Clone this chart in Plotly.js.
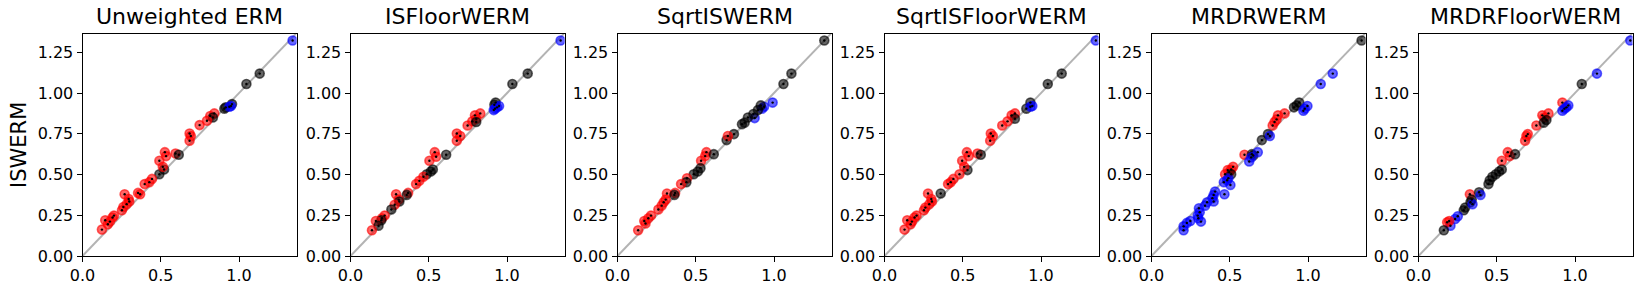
<!DOCTYPE html>
<html>
<head>
<meta charset="utf-8">
<script src="https://cdn.plot.ly/plotly-3.0.1.min.js"></script>
<style>html,body{margin:0;padding:0;background:#fff;}#chart{width:1642px;height:294px;}</style>
</head>
<body>
<div id="chart"></div>
<script>
// Panel titles
const titles = ["Unweighted ERM", "ISFloorWERM", "SqrtISWERM", "SqrtISFloorWERM", "MRDRWERM", "MRDRFloorWERM"];
const yLabel = "ISWERM";
const xTickVals = [0, 0.5, 1.0];
const yTickVals = [0, 0.25, 0.5, 0.75, 1.0, 1.25];

// Panel 1: Unweighted ERM
const x1 = [1.342,1.132,1.047,0.906,0.915,0.955,0.949,0.938,0.842,0.816,0.833,0.795,0.748,0.684,0.692,0.684,0.526,0.534,0.491,0.594,0.615,0.521,0.491,0.513,0.444,0.427,0.397,0.355,0.368,0.269,0.295,0.299,0.282,0.261,0.252,0.201,0.192,0.175,0.145,0.162,0.124];
const y1 = [1.322,1.119,1.055,0.904,0.912,0.932,0.920,0.916,0.875,0.859,0.850,0.830,0.803,0.752,0.736,0.707,0.637,0.613,0.584,0.629,0.621,0.531,0.502,0.547,0.473,0.453,0.441,0.387,0.379,0.379,0.350,0.334,0.318,0.301,0.281,0.248,0.236,0.211,0.219,0.195,0.162];
const c1 = ["b","k","k","k","k","k","b","b","r","r","k","r","r","r","r","r","r","r","r","r","k","k","k","r","r","r","r","r","r","r","r","r","r","r","r","r","r","r","r","r","r"];

// Panel 2: ISFloorWERM
const x2 = [1.342,1.132,1.034,0.927,0.919,0.915,0.936,0.949,0.923,0.829,0.795,0.803,0.778,0.748,0.803,0.679,0.701,0.679,0.538,0.547,0.504,0.611,0.526,0.513,0.487,0.466,0.440,0.419,0.368,0.359,0.291,0.308,0.312,0.282,0.261,0.218,0.201,0.197,0.162,0.179,0.137];
const y2 = [1.322,1.119,1.055,0.941,0.928,0.895,0.912,0.920,0.904,0.875,0.863,0.842,0.826,0.801,0.822,0.752,0.736,0.707,0.637,0.609,0.584,0.621,0.531,0.518,0.502,0.486,0.461,0.441,0.387,0.375,0.379,0.346,0.334,0.314,0.285,0.248,0.232,0.219,0.215,0.186,0.158];
const c2 = ["b","k","k","k","k","b","b","b","b","r","r","r","r","r","k","r","r","r","r","r","r","k","k","k","k","r","r","r","r","k","r","r","k","r","k","r","r","k","r","k","r"];

// Panel 3: SqrtISWERM
const x3 = [1.321,1.111,1.060,0.991,0.936,0.923,0.876,0.915,0.897,0.868,0.833,0.795,0.812,0.744,0.697,0.705,0.568,0.560,0.534,0.615,0.530,0.513,0.487,0.444,0.440,0.406,0.316,0.368,0.363,0.308,0.295,0.282,0.261,0.214,0.197,0.171,0.179,0.132];
const y3 = [1.322,1.119,1.055,0.941,0.916,0.904,0.846,0.924,0.895,0.871,0.850,0.809,0.818,0.748,0.711,0.736,0.637,0.613,0.584,0.625,0.539,0.518,0.502,0.477,0.453,0.441,0.383,0.387,0.375,0.346,0.330,0.309,0.285,0.248,0.232,0.215,0.199,0.158];
const c3 = ["k","k","k","b","b","b","b","k","k","k","k","k","k","k","k","r","r","r","r","k","k","k","k","r","k","r","r","r","k","r","r","r","r","r","r","r","r","r"];

// Panel 4: SqrtISFloorWERM
const x4 = [1.350,1.132,1.043,0.906,0.932,0.944,0.932,0.833,0.812,0.833,0.786,0.752,0.679,0.692,0.675,0.526,0.538,0.496,0.594,0.615,0.530,0.509,0.479,0.440,0.423,0.406,0.359,0.278,0.299,0.303,0.286,0.261,0.252,0.205,0.192,0.175,0.145,0.167,0.128];
const y4 = [1.322,1.119,1.055,0.904,0.941,0.920,0.916,0.875,0.863,0.842,0.826,0.801,0.752,0.736,0.707,0.637,0.613,0.584,0.629,0.621,0.527,0.547,0.502,0.473,0.453,0.441,0.383,0.383,0.350,0.334,0.318,0.297,0.281,0.248,0.236,0.211,0.219,0.195,0.162];
const c4 = ["b","k","k","k","k","b","b","r","r","k","r","r","r","r","r","r","r","r","r","k","k","r","r","r","r","r","k","r","r","r","r","r","r","r","r","r","r","r","r"];

// Panel 5: MRDRWERM
const x5 = [1.342,1.158,1.081,0.944,0.910,0.927,0.996,0.979,0.970,0.850,0.808,0.799,0.786,0.774,0.744,0.705,0.756,0.594,0.641,0.650,0.679,0.624,0.637,0.521,0.509,0.487,0.470,0.496,0.509,0.491,0.462,0.504,0.483,0.466,0.406,0.397,0.389,0.397,0.355,0.342,0.303,0.308,0.295,0.316,0.299,0.248,0.226,0.205,0.205];
const y5 = [1.322,1.119,1.055,0.941,0.912,0.924,0.920,0.904,0.891,0.875,0.863,0.838,0.822,0.801,0.748,0.711,0.736,0.621,0.625,0.617,0.637,0.580,0.605,0.547,0.531,0.527,0.502,0.514,0.502,0.477,0.453,0.436,0.465,0.379,0.395,0.375,0.355,0.334,0.330,0.309,0.293,0.268,0.248,0.211,0.232,0.215,0.203,0.182,0.158];
const c5 = ["k","b","b","k","k","k","b","b","b","r","r","r","r","r","k","k","b","r","k","k","b","b","b","r","r","r","r","r","k","b","b","b","b","b","b","b","b","b","b","b","b","b","b","b","b","b","b","b","b"];

// Panel 6: MRDRFloorWERM
const x6 = [1.353,1.140,1.043,0.919,0.919,0.945,0.957,0.932,0.830,0.791,0.804,0.753,0.817,0.800,0.698,0.689,0.681,0.570,0.583,0.532,0.617,0.532,0.515,0.494,0.472,0.455,0.447,0.328,0.387,0.340,0.332,0.298,0.289,0.396,0.345,0.251,0.234,0.204,0.196,0.183,0.162];
const y6 = [1.322,1.119,1.055,0.941,0.891,0.912,0.924,0.904,0.875,0.863,0.850,0.801,0.834,0.818,0.748,0.736,0.707,0.637,0.613,0.584,0.625,0.531,0.518,0.502,0.486,0.465,0.441,0.379,0.391,0.346,0.330,0.297,0.281,0.375,0.318,0.244,0.227,0.186,0.215,0.207,0.158];
const c6 = ["b","b","k","r","b","b","b","b","r","r","r","r","k","k","r","r","r","r","r","r","k","k","k","k","k","k","k","r","k","k","k","k","k","b","b","b","b","b","r","r","k"];

const xs = [x1, x2, x3, x4, x5, x6];
const ys = [y1, y2, y3, y4, y5, y6];
const cs = [c1, c2, c3, c4, c5, c6];

const W = 1642, H = 294;
const lefts = [82.5, 350.5, 617.5, 884.5, 1151.5, 1418.5];
const plotW = 214;
const plotTop = 34, plotBottom = 256;
const colorMap = {r: "rgba(255,0,0,0.6)", b: "rgba(0,0,255,0.6)", k: "rgba(0,0,0,0.6)"};

const data = [];
const layout = {
  width: W, height: H,
  margin: {l: 0, r: 0, t: 0, b: 0},
  paper_bgcolor: "#fff", plot_bgcolor: "#fff",
  showlegend: false,
  font: {family: "DejaVu Sans, sans-serif", color: "#000"},
  annotations: []
};

for (let i = 0; i < 6; i++) {
  const sfx = i === 0 ? "" : String(i + 1);
  const xa = "x" + sfx, ya = "y" + sfx;
  data.push({
    type: "scatter", mode: "lines", x: [0, 1.4], y: [0, 1.4],
    xaxis: xa, yaxis: ya, line: {color: "rgba(128,128,128,0.6)", width: 2},
    hoverinfo: "skip"
  });
  data.push({
    type: "scatter", mode: "markers", x: xs[i], y: ys[i], xaxis: xa, yaxis: ya,
    marker: {size: 9, color: cs[i].map(c => colorMap[c]),
             line: {color: cs[i].map(c => colorMap[c]), width: 1.6}},
    cliponaxis: true
  });
  data.push({
    type: "scatter", mode: "markers", x: xs[i], y: ys[i], xaxis: xa, yaxis: ya,
    marker: {size: 2.4, color: "#000"}, cliponaxis: true
  });
  const l = lefts[i];
  layout["xaxis" + sfx] = {
    domain: [l / W, (l + plotW) / W], anchor: ya,
    range: [0, 1.367], tickvals: xTickVals, tickformat: ".1f",
    ticks: "outside", ticklen: 5, tickwidth: 1, tickcolor: "#000",
    showline: true, mirror: true, linecolor: "#000", linewidth: 1,
    showgrid: false, zeroline: false,
    tickfont: {size: 16, family: "DejaVu Sans, sans-serif", color: "#000"}
  };
  layout["yaxis" + sfx] = {
    domain: [(H - plotBottom) / H, (H - plotTop) / H], anchor: xa,
    range: [0, 1.362], tickvals: yTickVals, tickformat: ".2f",
    ticks: "outside", ticklen: 5, tickwidth: 1, tickcolor: "#000",
    showline: true, mirror: true, linecolor: "#000", linewidth: 1,
    showgrid: false, zeroline: false,
    tickfont: {size: 16, family: "DejaVu Sans, sans-serif", color: "#000"}
  };
  layout.annotations.push({
    text: titles[i], xref: "paper", yref: "paper",
    x: (l + plotW / 2) / W, y: (H - 31) / H, xanchor: "center", yanchor: "bottom",
    showarrow: false, font: {size: 22, family: "DejaVu Sans, sans-serif", color: "#000"}
  });
}
layout.annotations.push({
  text: yLabel, xref: "paper", yref: "paper", textangle: -90,
  x: 19 / W, y: (H - (plotTop + plotBottom) / 2) / H, xanchor: "center", yanchor: "middle",
  showarrow: false, font: {size: 21, family: "DejaVu Sans, sans-serif", color: "#000"}
});

Plotly.newPlot("chart", data, layout, {displayModeBar: false, staticPlot: true});
</script>
</body>
</html>
